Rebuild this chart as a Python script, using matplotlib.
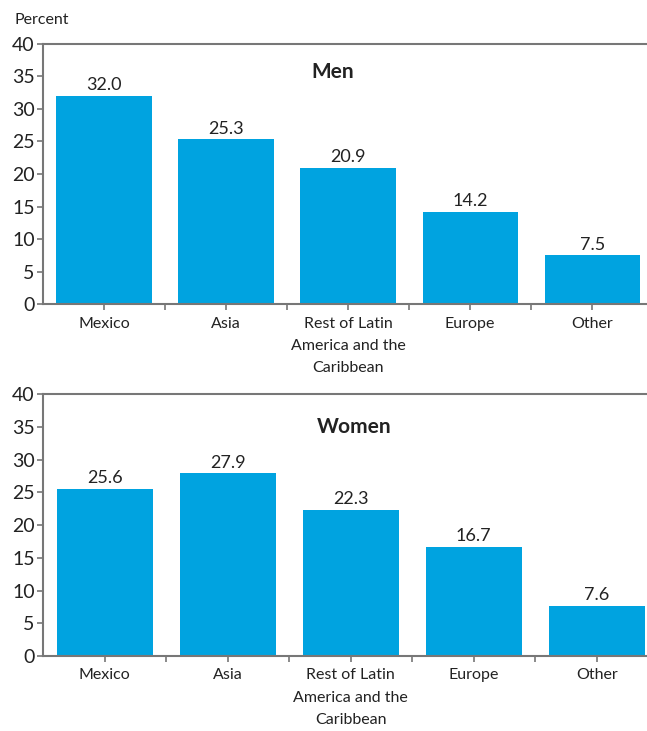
import matplotlib.pyplot as plt
import numpy as np

plt.rcParams['font.family'] = ['Lato', 'DejaVu Sans']

categories = ['Mexico', 'Asia', 'Rest of Latin\nAmerica and the\nCaribbean', 'Europe', 'Other']
men = [32.0, 25.3, 20.9, 14.2, 7.5]
women = [25.6, 27.9, 22.3, 16.7, 7.6]
y_ticks = [0, 5, 10, 15, 20, 25, 30, 35, 40]

bar_color = '#00a3e0'
spine_color = '#777777'
text_color = '#222222'

fig = plt.figure(figsize=(6.47, 7.31), dpi=100)
ax_men = fig.add_axes([0.0665, 0.584, 0.943, 0.356])
ax_women = fig.add_axes([0.0665, 0.1026, 0.951, 0.358])


def draw_panel(ax, values, title, title_x, title_y):
    x = np.arange(len(categories))
    bars = ax.bar(x, values, width=0.78, color=bar_color)
    ax.bar_label(bars, labels=[f'{v:.1f}' for v in values], padding=2,
                 fontsize=13, color=text_color)
    ax.set_xlim(-0.5, len(categories) - 0.5)
    ax.set_ylim(0, 40)
    ax.set_yticks(y_ticks)
    ax.tick_params(axis='y', labelsize=14, colors=spine_color, labelcolor=text_color,
                   length=4, width=1.2, pad=2)
    ax.set_xticks(x)
    ax.set_xticklabels(categories, fontsize=11.5, color=text_color, linespacing=1.75)
    ax.set_xticks(x[:-1] + 0.5, minor=True)
    ax.tick_params(axis='x', which='both', colors=spine_color, labelcolor=text_color,
                   length=4, width=1.2, pad=5)
    for side in ['left', 'top', 'bottom']:
        ax.spines[side].set_color(spine_color)
        ax.spines[side].set_linewidth(1.5)
    ax.spines['right'].set_visible(False)
    ax.text(title_x, title_y, title, transform=ax.transAxes, ha='center', va='center',
            fontsize=15, fontweight='bold', color=text_color)


draw_panel(ax_men, men, 'Men', 0.474, 0.892)
draw_panel(ax_women, women, 'Women', 0.506, 0.874)

fig.text(0.023, 0.972, 'Percent', fontsize=11.5, color=text_color, va='center')

fig.savefig('out.png', dpi=100)
